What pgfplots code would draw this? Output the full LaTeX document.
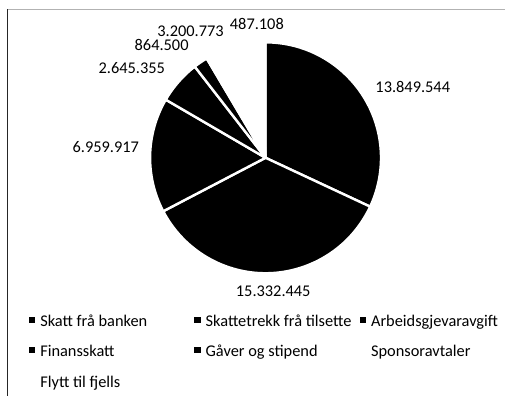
\documentclass[border=0pt]{standalone}
\usepackage{fontspec}
\setmainfont{Carlito}
\usepackage{pgfplots}
\usepackage{pgfplotstable}
\pgfplotsset{compat=1.18}
\newcommand\chartfont{\fontsize{17}{20}\selectfont}

% value = amount, lx/ly = label position (px, from bottom-left)
\pgfplotstableread[col sep=comma]{
value,lx,ly
13849544,429,322
15332445,284,109
6959917,110,259
2645355,137,341
864500,168,365
3200773,198,380
487108,267,387
}\piedata

\begin{document}
\begin{tikzpicture}
\def\total{0}%
\pgfplotsforeachungrouped \i in {0,...,6}{%
  \pgfplotstablegetelem{\i}{value}\of\piedata
  \xdef\total{\fpeval{\total+\pgfplotsretval}}%
}%
\def\cum{0}%
\pgfplotsforeachungrouped \i in {0,...,6}{%
  \pgfplotstablegetelem{\i}{value}\of\piedata
  \expandafter\xdef\csname v\i\endcsname{\pgfplotsretval}%
  \expandafter\xdef\csname s\i\endcsname{\fpeval{90-360*\cum/\total}}%
  \xdef\cum{\fpeval{\cum+\pgfplotsretval}}%
  \expandafter\xdef\csname e\i\endcsname{\fpeval{90-360*\cum/\total}}%
  \pgfplotstablegetelem{\i}{lx}\of\piedata
  \expandafter\xdef\csname lx\i\endcsname{\pgfplotsretval}%
  \pgfplotstablegetelem{\i}{ly}\of\piedata
  \expandafter\xdef\csname ly\i\endcsname{\pgfplotsretval}%
}%
\begin{axis}[
  x=1pt, y=1pt, xmin=0, xmax=525, ymin=0, ymax=412,
  hide axis, clip=false,
  /pgf/number format/assume math mode=true,
  legend columns=3, legend cell align=left,
  legend style={at={(0.0571,0.2051)}, anchor=north west, draw=none, fill=none,
    inner sep=0pt, outer sep=0pt, font=\chartfont,
    nodes={inner sep=0pt, text height=12pt, text depth=4pt},
    row sep=15.5pt, column sep=0pt,
    /tikz/every odd column/.append style={column sep=6pt}},
]
\path (axis cs:0,0) rectangle (axis cs:525,412);
% frame
\draw[gray!60, line width=1pt] (axis cs:8,402) -- (axis cs:525,402);
\draw[black!85, line width=1.5pt] (axis cs:8,402.5) -- (axis cs:8,0);
% wedges
\pgfplotsinvokeforeach{0,...,4}{%
  \filldraw[fill=black, draw=white, line width=2.5pt, line join=round]
    (axis cs:276,248) -- ++(\csname s#1\endcsname:120pt)
    arc[start angle=\csname s#1\endcsname, end angle=\csname e#1\endcsname, radius=120pt] -- cycle;
}
\pgfplotsinvokeforeach{5,6}{%
  \filldraw[fill=white, draw=white, line width=2.5pt, line join=round]
    (axis cs:276,248) -- ++(\csname s#1\endcsname:120pt)
    arc[start angle=\csname s#1\endcsname, end angle=\csname e#1\endcsname, radius=120pt] -- cycle;
}
% labels
\pgfplotsinvokeforeach{0,...,6}{%
  \node[font=\chartfont, inner sep=0pt] at (axis cs:\csname lx#1\endcsname,\csname ly#1\endcsname)
    {\pgfmathprintnumber[fixed, precision=0, 1000 sep={.}]{\csname v#1\endcsname}};
}
% legend
\addlegendimage{legend image code/.code={\fill[black] (0pt,0.5pt) rectangle (5.5pt,6pt);}}
\addlegendentry{\makebox[160pt][l]{Skatt frå banken}}
\addlegendimage{legend image code/.code={\fill[black] (0pt,0.5pt) rectangle (5.5pt,6pt);}}
\addlegendentry{\makebox[160pt][l]{Skattetrekk frå tilsette}}
\addlegendimage{legend image code/.code={\fill[black] (0pt,0.5pt) rectangle (5.5pt,6pt);}}
\addlegendentry{\makebox[160pt][l]{Arbeidsgjevaravgift}}
\addlegendimage{legend image code/.code={\fill[black] (0pt,0.5pt) rectangle (5.5pt,6pt);}}
\addlegendentry{\makebox[160pt][l]{Finansskatt}}
\addlegendimage{legend image code/.code={\fill[black] (0pt,0.5pt) rectangle (5.5pt,6pt);}}
\addlegendentry{\makebox[160pt][l]{Gåver og stipend}}
\addlegendimage{legend image code/.code={\fill[white] (0pt,0.5pt) rectangle (5.5pt,6pt);}}
\addlegendentry{\makebox[160pt][l]{Sponsoravtaler}}
\addlegendimage{legend image code/.code={\fill[white] (0pt,0.5pt) rectangle (5.5pt,6pt);}}
\addlegendentry{\makebox[160pt][l]{Flytt til fjells}}
\end{axis}
\end{tikzpicture}
\end{document}
